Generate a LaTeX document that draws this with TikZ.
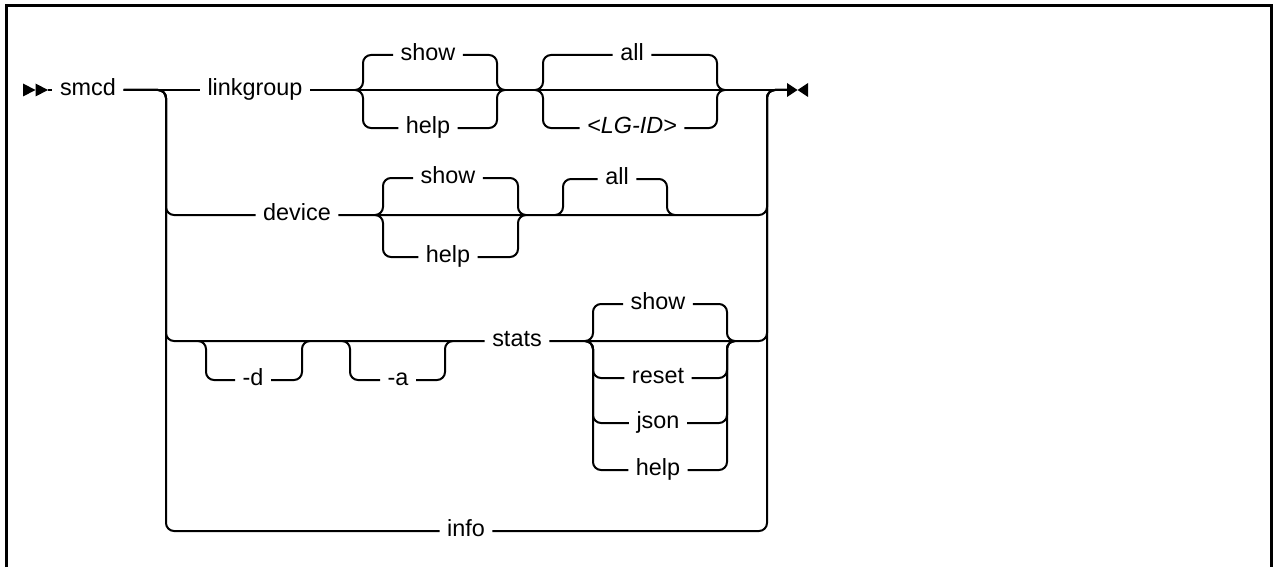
\documentclass[tikz,border=0pt]{standalone}
\usepackage{fontspec}
\setmainfont{Liberation Sans}
\usetikzlibrary{arrows.meta,positioning}

\begin{document}
\begin{tikzpicture}[x=0.5pt,y=-0.5pt]
\tikzset{
  keyword/.style={inner xsep=3.6pt,inner ysep=0pt,text height=8.4pt,text depth=2.6pt,font=\fontsize{11.7}{14}\selectfont},
  rail/.style={line width=1pt,rounded corners=4pt},
  frameline/.style={line width=1.5pt}
}
\useasboundingbox (0,0) rectangle (1273,567);
\draw[frameline] (6,567) -- (6,5.5) -- (1271.5,5.5) -- (1271.5,567);
% keywords
\node[keyword] (n_smcd) at (88,90) {smcd};
\node[keyword] (n_linkgroup) at (255,90) {linkgroup};
\node[keyword] (n_lgshow) at (428,55) {show};
\node[keyword] (n_lghelp) at (428,128) {help};
\node[keyword] (n_lgall) at (632,55) {all};
\node[keyword] (n_lgid) at (632,128) {\itshape <LG-ID>};
\node[keyword] (n_device) at (297,215) {device};
\node[keyword] (n_dvshow) at (448,178) {show};
\node[keyword] (n_dvhelp) at (448,257) {help};
\node[keyword] (n_dvall) at (617,179) {all};
\node[keyword] (n_d) at (253,380) {-d};
\node[keyword] (n_a) at (398,380) {-a};
\node[keyword] (n_stats) at (517,341) {stats};
\node[keyword] (n_stshow) at (658,304) {show};
\node[keyword] (n_streset) at (658,378) {reset};
\node[keyword] (n_stjson) at (658,423) {json};
\node[keyword] (n_sthelp) at (658,470) {help};
\node[keyword] (n_info) at (466,531) {info};
% junctions on the rails
\coordinate (c_start) at (48,90);
\coordinate (c_stop) at (787,90);
\coordinate (c_jl) at (166,90);
\coordinate (c_jr) at (767,90);
\coordinate (c_lg1) at (355,90);
\coordinate (c_lg2) at (505,90);
\coordinate (c_lg3) at (535,90);
\coordinate (c_lg4) at (725,90);
\coordinate (c_dv1) at (375,215);
\coordinate (c_dv2) at (526,215);
\coordinate (c_dv3) at (555,215);
\coordinate (c_dv4) at (675,215);
\coordinate (c_d1) at (198,341);
\coordinate (c_d2) at (310,341);
\coordinate (c_a1) at (342,341);
\coordinate (c_a2) at (453,341);
\coordinate (c_st1) at (585,341);
\coordinate (c_st2) at (735,341);
% start and end marks
\fill (23,83.5) -- (35.5,90) -- (23,96.5) -- cycle;
\fill (35.5,83.5) -- (48,90) -- (35.5,96.5) -- cycle;
\fill (787,83) -- (797.5,90) -- (787,97) -- cycle;
\fill (808,83) -- (797.5,90) -- (808,97) -- cycle;
% linkgroup
\draw[rail] (c_start) -- (n_smcd);
\draw[rail] (n_smcd) -- (n_linkgroup);
\draw[rail] (n_linkgroup) -- (c_stop);
\draw[rail] (c_lg1) -| ++(8,-35) -- (n_lgshow);
\draw[rail] (c_lg1) -| ++(8,38) -- (n_lghelp);
\draw[rail] (c_lg2) -| ++(-8,-35) -- (n_lgshow);
\draw[rail] (c_lg2) -| ++(-8,38) -- (n_lghelp);
\draw[rail] (c_lg3) -| ++(8,-35) -- (n_lgall);
\draw[rail] (c_lg3) -| ++(8,38) -- (n_lgid);
\draw[rail] (c_lg4) -| ++(-8,-35) -- (n_lgall);
\draw[rail] (c_lg4) -| ++(-8,38) -- (n_lgid);
% device
\draw[rail] (n_smcd) -- (c_jl) |- (n_device);
\draw[rail] (n_device) -- (c_dv2) -| (c_jr) -- (c_stop);
\draw[rail] (c_dv1) -| ++(8,-37) -- (n_dvshow);
\draw[rail] (c_dv1) -| ++(8,42) -- (n_dvhelp);
\draw[rail] (c_dv2) -| ++(-8,-37) -- (n_dvshow);
\draw[rail] (c_dv2) -| ++(-8,42) -- (n_dvhelp);
\draw[rail] (c_dv3) -| ++(8,-36) -- (n_dvall);
\draw[rail] (c_dv4) -| ++(-8,-36) -- (n_dvall);
% stats
\draw[rail] (n_smcd) -- (c_jl) |- (n_stats);
\draw[rail] (c_d1) -| ++(8,39) -- (n_d);
\draw[rail] (c_d2) -| ++(-8,39) -- (n_d);
\draw[rail] (c_a1) -| ++(8,39) -- (n_a);
\draw[rail] (c_a2) -| ++(-8,39) -- (n_a);
\draw[rail] (n_stats) -- (c_st2) -| (c_jr) -- (c_stop);
\draw[rail] (c_st1) -| ++(8,-37) -- (n_stshow);
\draw[rail] (c_st1) -| ++(8,37) -- (n_streset);
\draw[rail] (c_st1) -| ++(8,82) -- (n_stjson);
\draw[rail] (c_st1) -| ++(8,129) -- (n_sthelp);
\draw[rail] (c_st2) -| ++(-8,-37) -- (n_stshow);
\draw[rail] (c_st2) -| ++(-8,37) -- (n_streset);
\draw[rail] (c_st2) -| ++(-8,82) -- (n_stjson);
\draw[rail] (c_st2) -| ++(-8,129) -- (n_sthelp);
% info
\draw[rail] (n_smcd) -- (c_jl) |- (n_info);
\draw[rail] (n_info) -| (c_jr) -- (c_stop);
\end{tikzpicture}
\end{document}
